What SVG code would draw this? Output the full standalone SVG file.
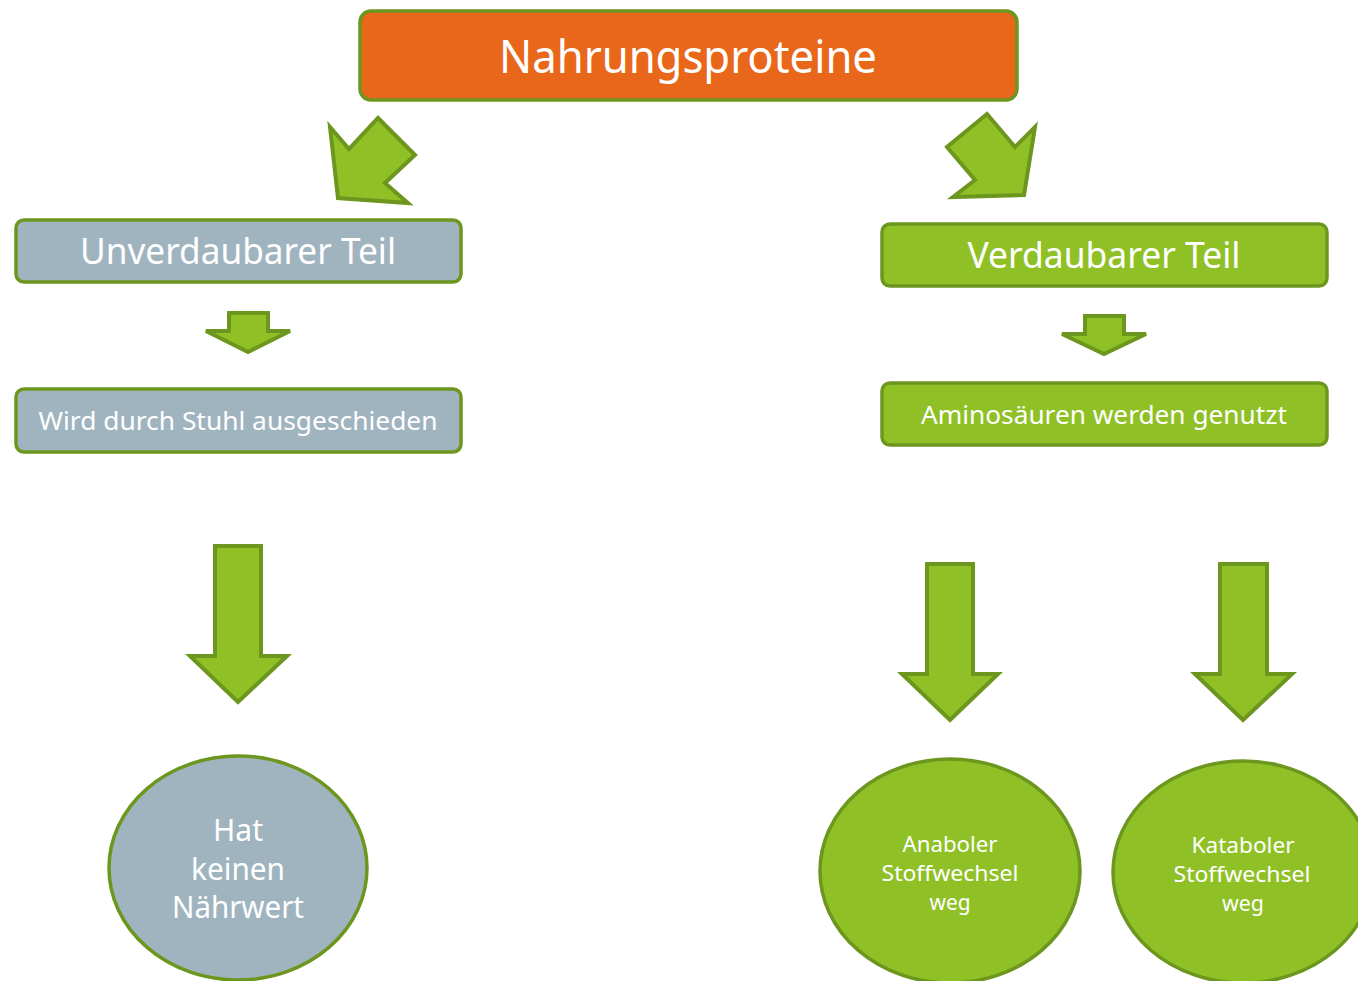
<svg xmlns="http://www.w3.org/2000/svg" width="1358" height="981" viewBox="0 0 1358 981">
<style>
.box{stroke:#6C961E;stroke-width:3.5}
.g{fill:#8FC127}
.gr{fill:#A0B4BF}
.or{fill:#E8671A}
.arr{fill:#8FC127;stroke:#6C961E;stroke-width:4;stroke-linejoin:miter}
text{font-family:"Noto Sans","Open Sans","DejaVu Sans",sans-serif;fill:#ffffff;text-anchor:middle}
</style>
<rect width="1358" height="981" fill="#ffffff"/>
<g id="connectors">
<polygon class="arr" points="330,127 349,149 378,118 415,155 385,183 408,203 338,198"/>
<polygon class="arr" points="987,114 1015,147 1035,127 1024,195 953,197 975,180 947,147"/>
<polygon class="arr" points="229,313 268,313 268,331 290,331 248,352 206,331 229,331"/>
<polygon class="arr" points="1085,316 1124,316 1124,334 1146,334 1104,354 1062,334 1085,334"/>
<polygon class="arr" points="215,546 261,546 261,656 287,656 238,702 190,656 215,656"/>
<polygon class="arr" points="927,564 973,564 973,674 998,674 950,720 902,674 927,674"/>
<polygon class="arr" points="1220,564 1267,564 1267,674 1292,674 1243,720 1195,674 1220,674"/>
</g>
<g id="n-top">
<rect class="box or" x="360" y="11" width="657" height="89" rx="11"/>
<text x="688" y="73" font-size="46" textLength="378" lengthAdjust="spacingAndGlyphs">Nahrungsproteine</text>
</g>
<g id="n-unverdaubar">
<rect class="box gr" x="16" y="220" width="445" height="62" rx="8"/>
<text x="238" y="264" font-size="36" textLength="316" lengthAdjust="spacingAndGlyphs">Unverdaubarer Teil</text>
</g>
<g id="n-verdaubar">
<rect class="box g" x="882" y="224" width="445" height="62" rx="8"/>
<text x="1104" y="268" font-size="36" textLength="273" lengthAdjust="spacingAndGlyphs">Verdaubarer Teil</text>
</g>
<g id="n-stuhl">
<rect class="box gr" x="16" y="389" width="445" height="63" rx="8"/>
<text x="238" y="430" font-size="26" textLength="399" lengthAdjust="spacingAndGlyphs">Wird durch Stuhl ausgeschieden</text>
</g>
<g id="n-amino">
<rect class="box g" x="882" y="383" width="445" height="62" rx="8"/>
<text x="1104" y="424" font-size="26" textLength="366" lengthAdjust="spacingAndGlyphs">Aminosäuren werden genutzt</text>
</g>
<g id="n-naehrwert">
<ellipse class="box gr" cx="238" cy="868" rx="129" ry="112"/>
<text x="238" y="841" font-size="30" textLength="50" lengthAdjust="spacingAndGlyphs">Hat</text>
<text x="238" y="880" font-size="30" textLength="94" lengthAdjust="spacingAndGlyphs">keinen</text>
<text x="238" y="918" font-size="30" textLength="132" lengthAdjust="spacingAndGlyphs">Nährwert</text>
</g>
<g id="n-anabol">
<ellipse class="box g" cx="950" cy="871" rx="130" ry="112"/>
<text x="950" y="852" font-size="22" textLength="95" lengthAdjust="spacingAndGlyphs">Anaboler</text>
<text x="950" y="881" font-size="22" textLength="137" lengthAdjust="spacingAndGlyphs">Stoffwechsel</text>
<text x="950" y="910" font-size="22" textLength="41" lengthAdjust="spacingAndGlyphs">weg</text>
</g>
<g id="n-katabol">
<ellipse class="box g" cx="1243" cy="872" rx="130" ry="111"/>
<text x="1243" y="853" font-size="22" textLength="103" lengthAdjust="spacingAndGlyphs">Kataboler</text>
<text x="1242" y="882" font-size="22" textLength="137" lengthAdjust="spacingAndGlyphs">Stoffwechsel</text>
<text x="1243" y="911" font-size="22" textLength="42" lengthAdjust="spacingAndGlyphs">weg</text>
</g>
</svg>
